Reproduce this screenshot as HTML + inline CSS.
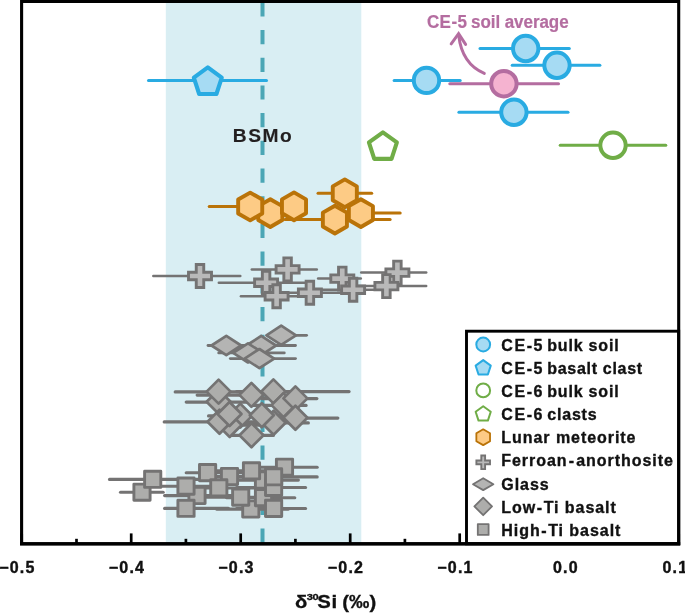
<!DOCTYPE html>
<html><head><meta charset="utf-8"><title>δ30Si</title>
<style>
html,body{margin:0;padding:0;background:#fff;overflow:hidden;}
svg{display:block;}
text{font-family:"Liberation Sans",sans-serif;font-weight:bold;fill:#111;}
.lg{font-size:16px;letter-spacing:0.95px;stroke:#111;stroke-width:0.35px;}
.tk{font-size:16px;letter-spacing:1.2px;stroke:#111;stroke-width:0.4px;}
.bs{font-size:19.2px;fill:#231F20;letter-spacing:1.5px;stroke:#231F20;stroke-width:0.15px;}
.av{font-size:17px;fill:#B46DA0;letter-spacing:-0.05px;stroke:#B46DA0;stroke-width:0.2px;}
.ti{font-size:18px;stroke:#111;stroke-width:0.3px;}
</style></head>
<body>
<svg width="685" height="614" viewBox="0 0 685 614">
<rect x="0" y="0" width="685" height="614" fill="#fff"/>
<rect x="165.8" y="2" width="195.5" height="541" fill="#D9EEF3"/>
<line x1="262.5" y1="2.3" x2="262.5" y2="543" stroke="#4BA6B5" stroke-width="4" stroke-dasharray="14.2 13.5"/>
<line x1="120.5" y1="492.3" x2="163.2" y2="492.3" stroke="#747373" stroke-width="3.1" stroke-linecap="round"/>
<line x1="109.5" y1="479.4" x2="198.4" y2="479.4" stroke="#747373" stroke-width="3.1" stroke-linecap="round"/>
<line x1="164.6" y1="495.6" x2="238.4" y2="495.6" stroke="#747373" stroke-width="3.1" stroke-linecap="round"/>
<line x1="151.6" y1="486.2" x2="223.4" y2="486.2" stroke="#747373" stroke-width="3.1" stroke-linecap="round"/>
<line x1="164.6" y1="508.4" x2="228.4" y2="508.4" stroke="#747373" stroke-width="3.1" stroke-linecap="round"/>
<line x1="186.2" y1="472.8" x2="248.4" y2="472.8" stroke="#747373" stroke-width="3.1" stroke-linecap="round"/>
<line x1="201.6" y1="476.6" x2="268.4" y2="476.6" stroke="#747373" stroke-width="3.1" stroke-linecap="round"/>
<line x1="191.6" y1="488.0" x2="258.4" y2="488.0" stroke="#747373" stroke-width="3.1" stroke-linecap="round"/>
<line x1="216.6" y1="509.1" x2="288.4" y2="509.1" stroke="#747373" stroke-width="3.1" stroke-linecap="round"/>
<line x1="206.6" y1="497.3" x2="278.4" y2="497.3" stroke="#747373" stroke-width="3.1" stroke-linecap="round"/>
<line x1="226.6" y1="480.1" x2="298.4" y2="480.1" stroke="#747373" stroke-width="3.1" stroke-linecap="round"/>
<line x1="216.6" y1="470.9" x2="288.4" y2="470.9" stroke="#747373" stroke-width="3.1" stroke-linecap="round"/>
<line x1="246.6" y1="467.3" x2="317.2" y2="467.3" stroke="#747373" stroke-width="3.1" stroke-linecap="round"/>
<line x1="226.6" y1="497.8" x2="294.8" y2="497.8" stroke="#747373" stroke-width="3.1" stroke-linecap="round"/>
<line x1="236.6" y1="487.5" x2="305.6" y2="487.5" stroke="#747373" stroke-width="3.1" stroke-linecap="round"/>
<line x1="236.6" y1="476.9" x2="317.2" y2="476.9" stroke="#747373" stroke-width="3.1" stroke-linecap="round"/>
<line x1="236.6" y1="508.5" x2="305.6" y2="508.5" stroke="#747373" stroke-width="3.1" stroke-linecap="round"/>
<rect x="133.9" y="484.1" width="16.2" height="16.2" fill="#ADADAB" stroke="#747373" stroke-width="2.9" stroke-linejoin="round"/>
<rect x="144.6" y="471.2" width="16.2" height="16.2" fill="#ADADAB" stroke="#747373" stroke-width="2.9" stroke-linejoin="round"/>
<rect x="188.9" y="487.4" width="16.2" height="16.2" fill="#ADADAB" stroke="#747373" stroke-width="2.9" stroke-linejoin="round"/>
<rect x="177.9" y="478.0" width="16.2" height="16.2" fill="#ADADAB" stroke="#747373" stroke-width="2.9" stroke-linejoin="round"/>
<rect x="177.9" y="500.2" width="16.2" height="16.2" fill="#ADADAB" stroke="#747373" stroke-width="2.9" stroke-linejoin="round"/>
<rect x="199.5" y="464.5" width="16.2" height="16.2" fill="#ADADAB" stroke="#747373" stroke-width="2.9" stroke-linejoin="round"/>
<rect x="221.4" y="468.4" width="16.2" height="16.2" fill="#ADADAB" stroke="#747373" stroke-width="2.9" stroke-linejoin="round"/>
<rect x="210.7" y="479.8" width="16.2" height="16.2" fill="#ADADAB" stroke="#747373" stroke-width="2.9" stroke-linejoin="round"/>
<rect x="242.7" y="500.9" width="16.2" height="16.2" fill="#ADADAB" stroke="#747373" stroke-width="2.9" stroke-linejoin="round"/>
<rect x="232.6" y="489.1" width="16.2" height="16.2" fill="#ADADAB" stroke="#747373" stroke-width="2.9" stroke-linejoin="round"/>
<rect x="255.4" y="471.9" width="16.2" height="16.2" fill="#ADADAB" stroke="#747373" stroke-width="2.9" stroke-linejoin="round"/>
<rect x="243.4" y="462.7" width="16.2" height="16.2" fill="#ADADAB" stroke="#747373" stroke-width="2.9" stroke-linejoin="round"/>
<rect x="276.4" y="459.1" width="16.2" height="16.2" fill="#ADADAB" stroke="#747373" stroke-width="2.9" stroke-linejoin="round"/>
<rect x="255.4" y="489.5" width="16.2" height="16.2" fill="#ADADAB" stroke="#747373" stroke-width="2.9" stroke-linejoin="round"/>
<rect x="265.5" y="479.3" width="16.2" height="16.2" fill="#ADADAB" stroke="#747373" stroke-width="2.9" stroke-linejoin="round"/>
<rect x="265.5" y="468.7" width="16.2" height="16.2" fill="#ADADAB" stroke="#747373" stroke-width="2.9" stroke-linejoin="round"/>
<rect x="265.5" y="500.3" width="16.2" height="16.2" fill="#ADADAB" stroke="#747373" stroke-width="2.9" stroke-linejoin="round"/>
<line x1="186.2" y1="402.1" x2="248.4" y2="402.1" stroke="#747373" stroke-width="3.1" stroke-linecap="round"/>
<line x1="175.2" y1="391.9" x2="258.4" y2="391.9" stroke="#747373" stroke-width="3.1" stroke-linecap="round"/>
<line x1="197.1" y1="395.1" x2="288.4" y2="395.1" stroke="#747373" stroke-width="3.1" stroke-linecap="round"/>
<line x1="236.6" y1="391.6" x2="349.1" y2="391.6" stroke="#747373" stroke-width="3.1" stroke-linecap="round"/>
<line x1="251.6" y1="405.4" x2="306.1" y2="405.4" stroke="#747373" stroke-width="3.1" stroke-linecap="round"/>
<line x1="261.6" y1="398.6" x2="316.9" y2="398.6" stroke="#747373" stroke-width="3.1" stroke-linecap="round"/>
<line x1="208.5" y1="415.9" x2="273.4" y2="415.9" stroke="#747373" stroke-width="3.1" stroke-linecap="round"/>
<line x1="226.6" y1="425.2" x2="260.4" y2="425.2" stroke="#747373" stroke-width="3.1" stroke-linecap="round"/>
<line x1="164.2" y1="421.9" x2="253.4" y2="421.9" stroke="#747373" stroke-width="3.1" stroke-linecap="round"/>
<line x1="221.6" y1="414.2" x2="260.4" y2="414.2" stroke="#747373" stroke-width="3.1" stroke-linecap="round"/>
<line x1="241.6" y1="422.9" x2="308.4" y2="422.9" stroke="#747373" stroke-width="3.1" stroke-linecap="round"/>
<line x1="229.6" y1="415.6" x2="298.4" y2="415.6" stroke="#747373" stroke-width="3.1" stroke-linecap="round"/>
<line x1="261.6" y1="418.1" x2="337.9" y2="418.1" stroke="#747373" stroke-width="3.1" stroke-linecap="round"/>
<line x1="230.6" y1="435.4" x2="273.4" y2="435.4" stroke="#747373" stroke-width="3.1" stroke-linecap="round"/>
<polygon points="206.60,401.80 218.60,389.80 230.60,401.80 218.60,413.80" fill="#ADADAB" stroke="#747373" stroke-width="2.7" stroke-linejoin="round"/>
<polygon points="206.60,391.60 218.60,379.60 230.60,391.60 218.60,403.60" fill="#ADADAB" stroke="#747373" stroke-width="2.7" stroke-linejoin="round"/>
<polygon points="239.40,394.90 251.40,382.90 263.40,394.90 251.40,406.90" fill="#ADADAB" stroke="#747373" stroke-width="2.7" stroke-linejoin="round"/>
<polygon points="261.40,391.40 273.40,379.40 285.40,391.40 273.40,403.40" fill="#ADADAB" stroke="#747373" stroke-width="2.7" stroke-linejoin="round"/>
<polygon points="271.50,405.10 283.50,393.10 295.50,405.10 283.50,417.10" fill="#ADADAB" stroke="#747373" stroke-width="2.7" stroke-linejoin="round"/>
<polygon points="283.40,398.40 295.40,386.40 307.40,398.40 295.40,410.40" fill="#ADADAB" stroke="#747373" stroke-width="2.7" stroke-linejoin="round"/>
<polygon points="228.30,415.60 240.30,403.60 252.30,415.60 240.30,427.60" fill="#ADADAB" stroke="#747373" stroke-width="2.7" stroke-linejoin="round"/>
<polygon points="217.70,425.00 229.70,413.00 241.70,425.00 229.70,437.00" fill="#ADADAB" stroke="#747373" stroke-width="2.7" stroke-linejoin="round"/>
<polygon points="207.50,421.70 219.50,409.70 231.50,421.70 219.50,433.70" fill="#ADADAB" stroke="#747373" stroke-width="2.7" stroke-linejoin="round"/>
<polygon points="217.50,414.00 229.50,402.00 241.50,414.00 229.50,426.00" fill="#ADADAB" stroke="#747373" stroke-width="2.7" stroke-linejoin="round"/>
<polygon points="261.60,422.70 273.60,410.70 285.60,422.70 273.60,434.70" fill="#ADADAB" stroke="#747373" stroke-width="2.7" stroke-linejoin="round"/>
<polygon points="249.80,415.30 261.80,403.30 273.80,415.30 261.80,427.30" fill="#ADADAB" stroke="#747373" stroke-width="2.7" stroke-linejoin="round"/>
<polygon points="283.40,417.80 295.40,405.80 307.40,417.80 295.40,429.80" fill="#ADADAB" stroke="#747373" stroke-width="2.7" stroke-linejoin="round"/>
<polygon points="239.50,435.20 251.50,423.20 263.50,435.20 251.50,447.20" fill="#ADADAB" stroke="#747373" stroke-width="2.7" stroke-linejoin="round"/>
<line x1="236.4" y1="345.5" x2="295.5" y2="345.5" stroke="#747373" stroke-width="2.8" stroke-linecap="round"/>
<line x1="218.7" y1="352.9" x2="284.3" y2="352.9" stroke="#747373" stroke-width="2.8" stroke-linecap="round"/>
<line x1="208.0" y1="345.5" x2="248.6" y2="345.5" stroke="#747373" stroke-width="2.8" stroke-linecap="round"/>
<line x1="269.4" y1="335.3" x2="306.6" y2="335.3" stroke="#747373" stroke-width="2.8" stroke-linecap="round"/>
<line x1="230.3" y1="358.6" x2="295.5" y2="358.6" stroke="#747373" stroke-width="2.8" stroke-linecap="round"/>
<polygon points="246.40,345.50 261.20,335.90 276.00,345.50 261.20,355.10" fill="#B4B4B3" stroke="#747373" stroke-width="2.7" stroke-linejoin="round"/>
<polygon points="233.20,352.90 248.00,343.30 262.80,352.90 248.00,362.50" fill="#B4B4B3" stroke="#747373" stroke-width="2.7" stroke-linejoin="round"/>
<polygon points="211.50,345.50 226.30,335.90 241.10,345.50 226.30,355.10" fill="#B4B4B3" stroke="#747373" stroke-width="2.7" stroke-linejoin="round"/>
<polygon points="266.40,335.30 281.20,325.70 296.00,335.30 281.20,344.90" fill="#B4B4B3" stroke="#747373" stroke-width="2.7" stroke-linejoin="round"/>
<polygon points="244.60,358.60 259.40,349.00 274.20,358.60 259.40,368.20" fill="#B4B4B3" stroke="#747373" stroke-width="2.7" stroke-linejoin="round"/>
<line x1="153.3" y1="276.0" x2="240.3" y2="276.0" stroke="#747373" stroke-width="2.5" stroke-linecap="round"/>
<line x1="218.8" y1="282.7" x2="308.8" y2="282.7" stroke="#747373" stroke-width="2.5" stroke-linecap="round"/>
<line x1="251.8" y1="269.4" x2="316.8" y2="269.4" stroke="#747373" stroke-width="2.5" stroke-linecap="round"/>
<line x1="240.9" y1="296.2" x2="313.8" y2="296.2" stroke="#747373" stroke-width="2.5" stroke-linecap="round"/>
<line x1="273.2" y1="292.7" x2="348.8" y2="292.7" stroke="#747373" stroke-width="2.5" stroke-linecap="round"/>
<line x1="318.1" y1="278.6" x2="360.8" y2="278.6" stroke="#747373" stroke-width="2.5" stroke-linecap="round"/>
<line x1="319.2" y1="289.8" x2="390.8" y2="289.8" stroke="#747373" stroke-width="2.5" stroke-linecap="round"/>
<line x1="361.2" y1="272.6" x2="426.2" y2="272.6" stroke="#747373" stroke-width="2.5" stroke-linecap="round"/>
<line x1="347.2" y1="286.1" x2="426.2" y2="286.1" stroke="#747373" stroke-width="2.5" stroke-linecap="round"/>
<polygon points="196.25,264.50 203.75,264.50 203.75,272.25 211.50,272.25 211.50,279.75 203.75,279.75 203.75,287.50 196.25,287.50 196.25,279.75 188.50,279.75 188.50,272.25 196.25,272.25" fill="#B9B9B9" stroke="#747373" stroke-width="2.9" stroke-linejoin="miter"/>
<polygon points="262.35,271.20 269.85,271.20 269.85,278.95 277.60,278.95 277.60,286.45 269.85,286.45 269.85,294.20 262.35,294.20 262.35,286.45 254.60,286.45 254.60,278.95 262.35,278.95" fill="#B9B9B9" stroke="#747373" stroke-width="2.9" stroke-linejoin="miter"/>
<polygon points="283.85,257.90 291.35,257.90 291.35,265.65 299.10,265.65 299.10,273.15 291.35,273.15 291.35,280.90 283.85,280.90 283.85,273.15 276.10,273.15 276.10,265.65 283.85,265.65" fill="#B9B9B9" stroke="#747373" stroke-width="2.9" stroke-linejoin="miter"/>
<polygon points="272.85,284.70 280.35,284.70 280.35,292.45 288.10,292.45 288.10,299.95 280.35,299.95 280.35,307.70 272.85,307.70 272.85,299.95 265.10,299.95 265.10,292.45 272.85,292.45" fill="#B9B9B9" stroke="#747373" stroke-width="2.9" stroke-linejoin="miter"/>
<polygon points="306.15,281.20 313.65,281.20 313.65,288.95 321.40,288.95 321.40,296.45 313.65,296.45 313.65,304.20 306.15,304.20 306.15,296.45 298.40,296.45 298.40,288.95 306.15,288.95" fill="#B9B9B9" stroke="#747373" stroke-width="2.9" stroke-linejoin="miter"/>
<polygon points="338.55,267.10 346.05,267.10 346.05,274.85 353.80,274.85 353.80,282.35 346.05,282.35 346.05,290.10 338.55,290.10 338.55,282.35 330.80,282.35 330.80,274.85 338.55,274.85" fill="#B9B9B9" stroke="#747373" stroke-width="2.9" stroke-linejoin="miter"/>
<polygon points="349.35,278.30 356.85,278.30 356.85,286.05 364.60,286.05 364.60,293.55 356.85,293.55 356.85,301.30 349.35,301.30 349.35,293.55 341.60,293.55 341.60,286.05 349.35,286.05" fill="#B9B9B9" stroke="#747373" stroke-width="2.9" stroke-linejoin="miter"/>
<polygon points="393.65,261.10 401.15,261.10 401.15,268.85 408.90,268.85 408.90,276.35 401.15,276.35 401.15,284.10 393.65,284.10 393.65,276.35 385.90,276.35 385.90,268.85 393.65,268.85" fill="#B9B9B9" stroke="#747373" stroke-width="2.9" stroke-linejoin="miter"/>
<polygon points="382.65,274.60 390.15,274.60 390.15,282.35 397.90,282.35 397.90,289.85 390.15,289.85 390.15,297.60 382.65,297.60 382.65,289.85 374.90,289.85 374.90,282.35 382.65,282.35" fill="#B9B9B9" stroke="#747373" stroke-width="2.9" stroke-linejoin="miter"/>
<line x1="241.5" y1="213.1" x2="298.5" y2="213.1" stroke="#BA7308" stroke-width="3.0" stroke-linecap="round"/>
<line x1="209.2" y1="206.5" x2="273.5" y2="206.5" stroke="#BA7308" stroke-width="3.0" stroke-linecap="round"/>
<line x1="271.5" y1="206.3" x2="303.5" y2="206.3" stroke="#BA7308" stroke-width="3.0" stroke-linecap="round"/>
<line x1="285.0" y1="219.6" x2="390.1" y2="219.6" stroke="#BA7308" stroke-width="3.0" stroke-linecap="round"/>
<line x1="336.5" y1="213.1" x2="400.2" y2="213.1" stroke="#BA7308" stroke-width="3.0" stroke-linecap="round"/>
<line x1="318.0" y1="193.3" x2="371.7" y2="193.3" stroke="#BA7308" stroke-width="3.0" stroke-linecap="round"/>
<polygon points="270.30,199.20 282.34,206.15 282.34,220.05 270.30,227.00 258.26,220.05 258.26,206.15" fill="#FDCB85" stroke="#BA7308" stroke-width="3.9" stroke-linejoin="round"/>
<polygon points="250.20,192.60 262.24,199.55 262.24,213.45 250.20,220.40 238.16,213.45 238.16,199.55" fill="#FDCB85" stroke="#BA7308" stroke-width="3.9" stroke-linejoin="round"/>
<polygon points="294.00,192.40 306.04,199.35 306.04,213.25 294.00,220.20 281.96,213.25 281.96,199.35" fill="#FDCB85" stroke="#BA7308" stroke-width="3.9" stroke-linejoin="round"/>
<polygon points="334.90,205.70 346.94,212.65 346.94,226.55 334.90,233.50 322.86,226.55 322.86,212.65" fill="#FDCB85" stroke="#BA7308" stroke-width="3.9" stroke-linejoin="round"/>
<polygon points="360.90,199.20 372.94,206.15 372.94,220.05 360.90,227.00 348.86,220.05 348.86,206.15" fill="#FDCB85" stroke="#BA7308" stroke-width="3.9" stroke-linejoin="round"/>
<polygon points="344.80,179.40 356.84,186.35 356.84,200.25 344.80,207.20 332.76,200.25 332.76,186.35" fill="#FDCB85" stroke="#BA7308" stroke-width="3.9" stroke-linejoin="round"/>
<line x1="560.2" y1="145.3" x2="665.8" y2="145.3" stroke="#70AD47" stroke-width="3.0" stroke-linecap="round"/>
<circle cx="613.0" cy="145.3" r="12.7" fill="#fff" stroke="#70AD47" stroke-width="4.0"/>
<polygon points="382.90,132.30 396.88,142.46 391.54,158.90 374.26,158.90 368.92,142.46" fill="#fff" stroke="#70AD47" stroke-width="4.1" stroke-linejoin="round"/>
<line x1="148.5" y1="80.5" x2="266.5" y2="80.5" stroke="#29ABE2" stroke-width="3.0" stroke-linecap="round"/>
<polygon points="207.80,67.40 221.78,77.56 216.44,94.00 199.16,94.00 193.82,77.56" fill="#A6DBF3" stroke="#29ABE2" stroke-width="4.1" stroke-linejoin="round"/>
<line x1="394.1" y1="80.4" x2="460.2" y2="80.4" stroke="#29ABE2" stroke-width="3.0" stroke-linecap="round"/>
<circle cx="426.5" cy="80.4" r="12.7" fill="#A6DBF3" stroke="#29ABE2" stroke-width="4.0"/>
<line x1="480.0" y1="48.5" x2="569.3" y2="48.5" stroke="#29ABE2" stroke-width="3.0" stroke-linecap="round"/>
<circle cx="525.7" cy="48.5" r="12.7" fill="#A6DBF3" stroke="#29ABE2" stroke-width="4.0"/>
<line x1="512.2" y1="65.3" x2="599.9" y2="65.3" stroke="#29ABE2" stroke-width="3.0" stroke-linecap="round"/>
<circle cx="557.0" cy="65.3" r="12.7" fill="#A6DBF3" stroke="#29ABE2" stroke-width="4.0"/>
<line x1="449.8" y1="83.7" x2="558.5" y2="83.7" stroke="#B46DA0" stroke-width="3.0" stroke-linecap="round"/>
<circle cx="503.9" cy="83.7" r="12.7" fill="#F5B3D0" stroke="#B46DA0" stroke-width="4.0"/>
<line x1="458.9" y1="112.3" x2="568.0" y2="112.3" stroke="#29ABE2" stroke-width="3.0" stroke-linecap="round"/>
<circle cx="513.9" cy="112.3" r="12.7" fill="#A6DBF3" stroke="#29ABE2" stroke-width="4.0"/>
<path d="M484.3,73.4 Q462,64 458.7,35.4" fill="none" stroke="#B46DA0" stroke-width="3" stroke-linecap="round"/>
<path d="M451.2,43.8 L458.6,33.7 L465.6,44.4" fill="none" stroke="#B46DA0" stroke-width="3" stroke-linecap="round" stroke-linejoin="miter"/>
<line x1="21.7" y1="533.4" x2="21.7" y2="543" stroke="#000" stroke-width="2.7"/>
<line x1="76.5" y1="538.8" x2="76.5" y2="543" stroke="#000" stroke-width="2.7"/>
<line x1="131.2" y1="533.4" x2="131.2" y2="543" stroke="#000" stroke-width="2.7"/>
<line x1="185.9" y1="538.8" x2="185.9" y2="543" stroke="#000" stroke-width="2.7"/>
<line x1="240.7" y1="533.4" x2="240.7" y2="543" stroke="#000" stroke-width="2.7"/>
<line x1="295.4" y1="538.8" x2="295.4" y2="543" stroke="#000" stroke-width="2.7"/>
<line x1="350.2" y1="533.4" x2="350.2" y2="543" stroke="#000" stroke-width="2.7"/>
<line x1="404.9" y1="538.8" x2="404.9" y2="543" stroke="#000" stroke-width="2.7"/>
<line x1="459.7" y1="533.4" x2="459.7" y2="543" stroke="#000" stroke-width="2.7"/>
<line x1="514.5" y1="538.8" x2="514.5" y2="543" stroke="#000" stroke-width="2.7"/>
<line x1="569.2" y1="533.4" x2="569.2" y2="543" stroke="#000" stroke-width="2.7"/>
<line x1="624.0" y1="538.8" x2="624.0" y2="543" stroke="#000" stroke-width="2.7"/>
<line x1="678.7" y1="533.4" x2="678.7" y2="543" stroke="#000" stroke-width="2.7"/>
<rect x="466.5" y="331.2" width="212.2" height="212.6" fill="#fff" stroke="#000" stroke-width="2.9"/>
<path d="M21.6,0 V543.8 H678.7 V1.45 H20.1" fill="none" stroke="#000" stroke-width="3.1" stroke-linejoin="miter"/>
<line x1="20.05" y1="543.85" x2="680.25" y2="543.85" stroke="#000" stroke-width="3.3"/>
<circle cx="483.2" cy="344.5" r="6.9" fill="#A6DBF3" stroke="#29ABE2" stroke-width="2.0"/>
<polygon points="483.20,360.14 490.76,365.63 487.87,374.52 478.53,374.52 475.64,365.63" fill="#A6DBF3" stroke="#29ABE2" stroke-width="2.0" stroke-linejoin="round"/>
<circle cx="483.2" cy="390.4" r="6.9" fill="#fff" stroke="#70AD47" stroke-width="2.0"/>
<polygon points="483.20,406.20 490.76,411.69 487.87,420.58 478.53,420.58 475.64,411.69" fill="#fff" stroke="#70AD47" stroke-width="2.0" stroke-linejoin="round"/>
<polygon points="483.20,429.32 490.04,433.27 490.04,441.17 483.20,445.12 476.36,441.17 476.36,433.27" fill="#FDCB85" stroke="#BA7308" stroke-width="1.8" stroke-linejoin="round"/>
<polygon points="481.30,455.55 485.10,455.55 485.10,460.45 490.00,460.45 490.00,464.25 485.10,464.25 485.10,469.15 481.30,469.15 481.30,464.25 476.40,464.25 476.40,460.45 481.30,460.45" fill="#B9B9B9" stroke="#747373" stroke-width="1.9" stroke-linejoin="miter"/>
<polygon points="473.00,484.18 483.20,478.23 493.40,484.18 483.20,490.13" fill="#B4B4B3" stroke="#747373" stroke-width="1.8" stroke-linejoin="round"/>
<polygon points="474.40,506.41 483.20,497.61 492.00,506.41 483.20,515.21" fill="#ADADAB" stroke="#747373" stroke-width="1.8" stroke-linejoin="round"/>
<rect x="477.8" y="524.1" width="10.8" height="10.8" fill="#ADADAB" stroke="#747373" stroke-width="1.8" stroke-linejoin="round"/>
<text x="501.3" y="350.8" class="lg">C<tspan dx="0.8">E</tspan><tspan dx="0.5">-</tspan><tspan dx="0.5">5</tspan><tspan dx="-1.5"> </tspan><tspan letter-spacing="0.8">bulk soil</tspan></text>
<text x="501.3" y="373.9" class="lg">C<tspan dx="0.8">E</tspan><tspan dx="0.5">-</tspan><tspan dx="0.5">5</tspan><tspan dx="-1.5"> </tspan><tspan letter-spacing="0.7">basalt clast</tspan></text>
<text x="501.3" y="397.1" class="lg">C<tspan dx="0.8">E</tspan><tspan dx="0.5">-</tspan><tspan dx="0.5">6</tspan><tspan dx="-1.5"> </tspan><tspan letter-spacing="0.8">bulk soil</tspan></text>
<text x="501.3" y="420.2" class="lg">C<tspan dx="0.8">E</tspan><tspan dx="0.5">-</tspan><tspan dx="0.5">6</tspan><tspan dx="-1.5"> </tspan><tspan letter-spacing="0.8">clasts</tspan></text>
<text x="501.3" y="443.3" class="lg">Lunar meteorite</text>
<text x="501.3" y="466.4" class="lg">Ferroan<tspan dx="1.2">-</tspan><tspan dx="1.2">anorthosite</tspan></text>
<text x="501.3" y="489.6" class="lg">Glass</text>
<text x="501.3" y="512.7" class="lg">Low<tspan dx="0.6">-</tspan><tspan dx="0.6">Ti basalt</tspan></text>
<text x="501.3" y="535.8" class="lg">High<tspan dx="0.6">-</tspan><tspan dx="0.6">Ti basalt</tspan></text>
<text x="-0.8" y="572.9" class="tk">−0.5</text>
<text x="108.8" y="572.9" class="tk">−0.4</text>
<text x="218.3" y="572.9" class="tk">−0.3</text>
<text x="327.8" y="572.9" class="tk">−0.2</text>
<text x="437.3" y="572.9" class="tk">−0.1</text>
<text x="553.0" y="572.9" class="tk">0.0</text>
<text x="662.5" y="572.9" class="tk">0.1</text>
<text x="232.8" y="142.3" class="bs">BSMo</text>
<text transform="translate(427.0,27.7) scale(1,1.09)" x="0" y="0" class="av">C<tspan dx="0.4">E</tspan><tspan dx="0.5">-</tspan><tspan dx="0.5">5</tspan><tspan dx="-0.6"> </tspan>soil average</text>
<g transform="translate(295.0,608.4) scale(1.13,1)"><text y="0" class="ti"><tspan x="0">δ</tspan><tspan x="10.4" y="-8.8" font-size="9.8" letter-spacing="-0.3">30</tspan><tspan x="19.8" y="0" letter-spacing="0.6">Si</tspan><tspan x="41.8" letter-spacing="0.1">(‰)</tspan></text></g>
</svg>
</body></html>
